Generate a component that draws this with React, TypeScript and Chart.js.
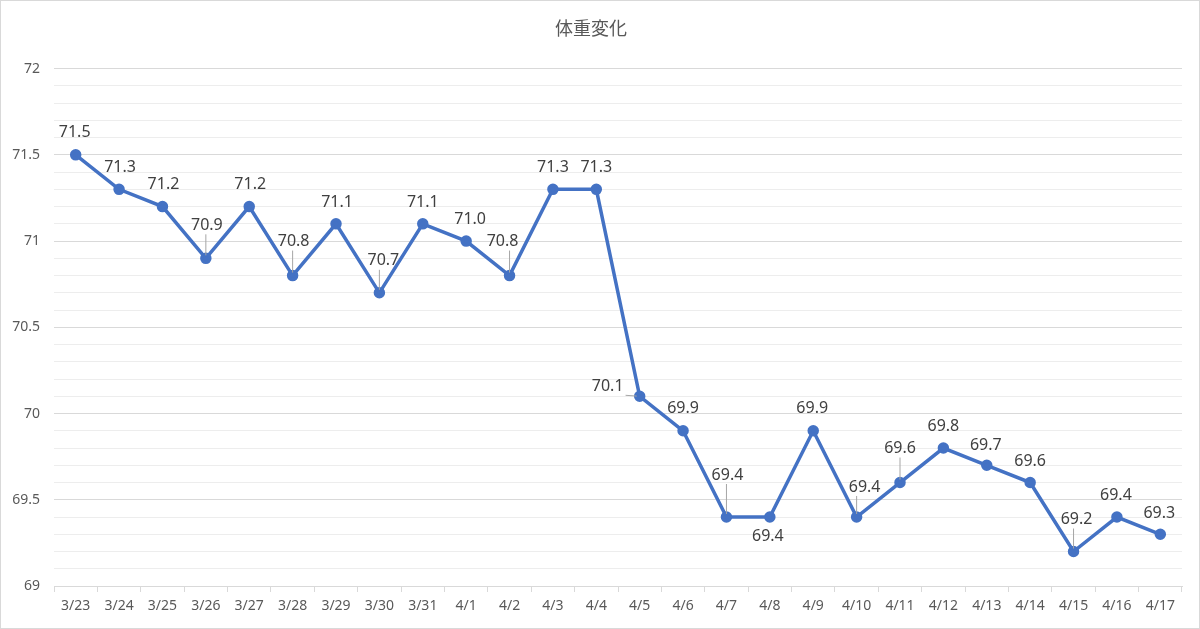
import React, { useEffect, useRef } from "react";
import { Chart, registerables } from "chart.js";

Chart.register(...registerables);

const TITLE = "体重変化";
const categories = [
  "3/23", "3/24", "3/25", "3/26", "3/27", "3/28", "3/29", "3/30", "3/31",
  "4/1", "4/2", "4/3", "4/4", "4/5", "4/6", "4/7", "4/8", "4/9", "4/10",
  "4/11", "4/12", "4/13", "4/14", "4/15", "4/16", "4/17",
];
const weights = [
  71.5, 71.3, 71.2, 70.9, 71.2, 70.8, 71.1, 70.7, 71.1, 71.0, 70.8, 71.3, 71.3,
  70.1, 69.9, 69.4, 69.4, 69.9, 69.4, 69.6, 69.8, 69.7, 69.6, 69.2, 69.4, 69.3,
];
const yMin = 69;
const yMax = 72;
const yMinorStep = 0.1;

// label placement (pixel offsets of label centre from its point; leader line flag)
const labelOffsets: [number, number, boolean][] = [
  [-1, -22, false], [1, -22, false], [1, -22, false], [1, -33, true],
  [1, -22, false], [1, -34, true], [1, -21, false], [4, -32, true],
  [0, -21, false], [4, -22, false], [-7, -34, true], [0, -22, false],
  [0, -22, false], [-32, -10, true], [0, -22, false], [1, -42, true],
  [-2, 19, false], [-1, -22, false], [8, -30, true], [0, -34, true],
  [0, -22, false], [-1, -20, false], [0, -21, false], [3, -32, true],
  [-1, -22, false], [-1, -21, false],
];

const FONT = "'Noto Sans', 'Noto Sans CJK JP', sans-serif";

const labelPlugin = {
  id: "valueLabels",
  afterDatasetsDraw(chart: any) {
    const ctx = chart.ctx;
    const meta = chart.getDatasetMeta(0);
    ctx.save();
    ctx.font = `16px ${FONT}`;
    ctx.textAlign = "center";
    ctx.textBaseline = "middle";
    meta.data.forEach((pt: any, i: number) => {
      const [dx, dy, leader] = labelOffsets[i] || [0, -22, false];
      const text = weights[i].toFixed(1);
      const lx = pt.x + dx;
      const ly = pt.y + dy;
      if (leader) {
        const w = ctx.measureText(text).width;
        const hw = w / 2 + 2;
        const hh = 9;
        const sx = Math.max(lx - hw, Math.min(lx + hw, pt.x));
        const sy = Math.max(ly - hh, Math.min(ly + hh, pt.y));
        const vx = pt.x - sx;
        const vy = pt.y - sy;
        const len = Math.hypot(vx, vy);
        if (len > 5) {
          const ex = pt.x - (vx / len) * 3;
          const ey = pt.y - (vy / len) * 3;
          ctx.strokeStyle = "#a6a6a6";
          ctx.lineWidth = 1;
          ctx.beginPath();
          ctx.moveTo(sx, sy);
          ctx.lineTo(ex, ey);
          ctx.stroke();
        }
      }
      ctx.fillStyle = "#404040";
      ctx.fillText(text, lx, ly);
    });
    ctx.restore();
  },
};

const framePlugin = {
  id: "frame",
  afterDraw(chart: any) {
    const ctx = chart.ctx;
    ctx.save();
    ctx.strokeStyle = "#d9d9d9";
    ctx.lineWidth = 1;
    ctx.strokeRect(0.5, 0.5, chart.width - 1, chart.height - 1);
    ctx.restore();
  },
};

export default function App() {
  const ref = useRef<HTMLCanvasElement | null>(null);
  useEffect(() => {
    document.body.style.margin = "0";
    if (!ref.current) return;
    const chart = new Chart(ref.current, {
      type: "line",
      data: {
        labels: categories,
        datasets: [
          {
            data: weights,
            borderColor: "#4472C4",
            backgroundColor: "#4472C4",
            borderWidth: 3.5,
            pointRadius: 4,
            pointHoverRadius: 4,
            pointBackgroundColor: "#4472C4",
            pointBorderColor: "#4472C4",
            tension: 0,
          },
        ],
      },
      options: {
        animation: false,
        responsive: false,
        maintainAspectRatio: false,
        layout: { padding: { left: 0, right: 18, top: 0, bottom: 0 } },
        plugins: {
          legend: { display: false },
          tooltip: { enabled: false },
          title: {
            display: true,
            text: TITLE,
            color: "#595959",
            font: { family: FONT, size: 18, weight: "normal" },
            padding: { top: 19, bottom: 28 },
          },
        },
        scales: {
          x: {
            type: "category",
            offset: true,
            grid: {
              display: true,
              offset: true,
              drawOnChartArea: false,
              drawTicks: true,
              tickLength: 6,
              color: "#d9d9d9",
            },
            border: { display: true, color: "#d9d9d9" },
            ticks: {
              color: "#595959",
              font: { family: FONT, size: 14 },
              padding: 6,
              maxRotation: 0,
              autoSkip: false,
            },
            afterFit(scale: any) {
              scale.height = 43;
            },
          },
          y: {
            type: "linear",
            min: yMin,
            max: yMax,
            grid: {
              drawTicks: false,
              color: (c: any) => {
                const v = c.tick ? c.tick.value : 0;
                const m = Math.abs(v * 2 - Math.round(v * 2)) < 1e-6;
                return m ? "#d9d9d9" : "#ededed";
              },
              lineWidth: 1,
            },
            border: { display: false },
            ticks: {
              stepSize: yMinorStep,
              autoSkip: false,
              color: "#595959",
              font: { family: FONT, size: 14 },
              padding: 14,
              callback: (v: any) => {
                const n = Number(v);
                if (Math.abs(n * 2 - Math.round(n * 2)) < 1e-6) {
                  return String(Math.round(n * 2) / 2);
                }
                return "";
              },
            },
            afterFit(scale: any) {
              scale.width = 54;
            },
          },
        },
      },
      plugins: [labelPlugin, framePlugin],
    });
    return () => chart.destroy();
  }, []);
  return (
    <div style={{ position: "fixed", left: 0, top: 0, width: 1200, height: 629, background: "#fff" }}>
      <canvas ref={ref} width={1200} height={629} style={{ width: 1200, height: 629, display: "block" }} />
    </div>
  );
}
